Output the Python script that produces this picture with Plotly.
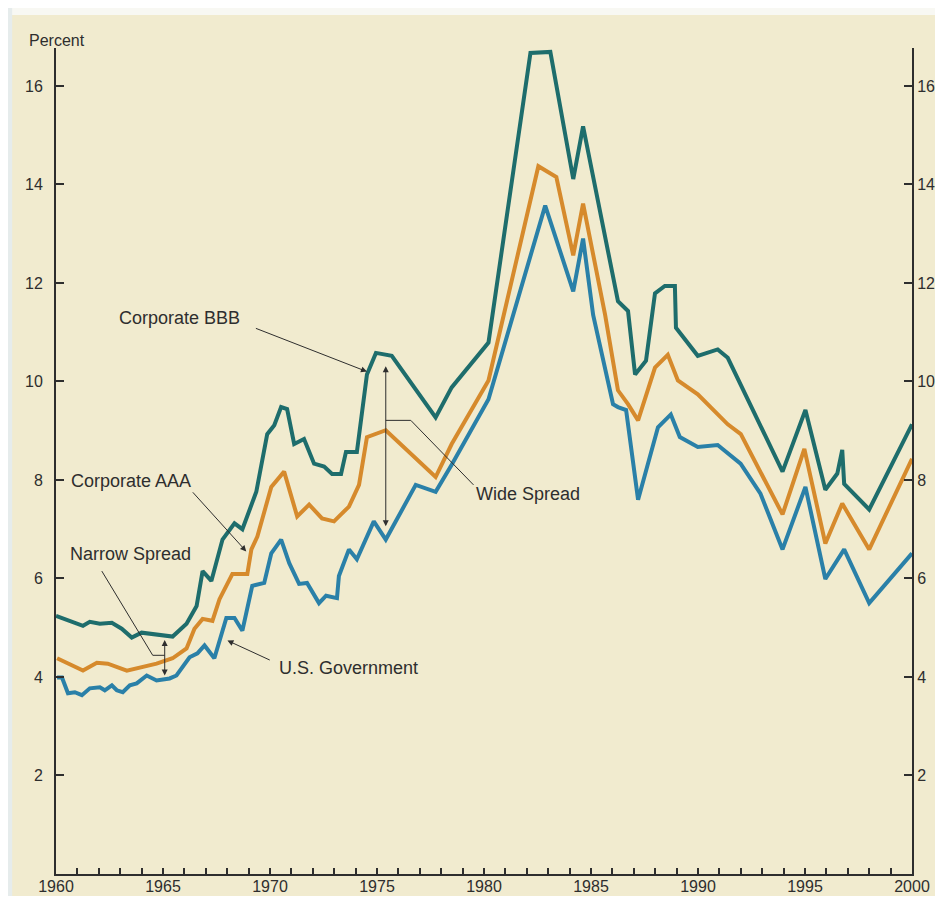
import plotly.graph_objects as go

# ---- data (decimal years, percent) ----
bbb_years = [1960.00, 1960.65, 1961.26, 1961.58, 1962.05, 1962.61, 1963.07, 1963.54, 1964.00,
             1965.45, 1966.10, 1966.57, 1966.85, 1967.26, 1967.78, 1968.34, 1968.71, 1969.36,
             1969.87, 1970.20, 1970.52, 1970.80, 1971.13, 1971.59, 1972.06, 1972.53, 1972.90,
             1973.32, 1973.55, 1974.06, 1974.53, 1974.95, 1975.69, 1977.74, 1978.49, 1980.21,
             1982.17, 1983.10, 1984.17, 1984.63, 1986.26, 1986.73, 1987.06, 1987.57, 1987.99,
             1988.45, 1988.92, 1988.97, 1989.99, 1990.92, 1991.39, 1993.95, 1995.02, 1995.95,
             1996.51, 1996.74, 1996.83, 1998.00, 2000.00]
bbb_values = [5.24, 5.14, 5.04, 5.12, 5.08, 5.10, 4.98, 4.80, 4.90,
              4.82, 5.08, 5.44, 6.15, 5.95, 6.79, 7.12, 7.00, 7.76,
              8.93, 9.11, 9.48, 9.44, 8.73, 8.83, 8.33, 8.27, 8.12,
              8.12, 8.57, 8.57, 10.14, 10.58, 10.52, 9.27, 9.88, 10.79,
              16.67, 16.69, 14.11, 15.18, 11.63, 11.43, 10.14, 10.42, 11.79,
              11.94, 11.94, 11.09, 10.52, 10.65, 10.48, 8.17, 9.42, 7.80,
              8.13, 8.61, 7.92, 7.40, 9.13]

aaa_years = [1960.05, 1961.26, 1961.91, 1962.42, 1963.31, 1964.70, 1965.45, 1966.10, 1966.47,
             1966.85, 1967.31, 1967.64, 1968.24, 1968.94, 1969.13, 1969.41, 1970.06, 1970.66,
             1971.27, 1971.83, 1972.43, 1972.99, 1973.69, 1974.16, 1974.53, 1975.41, 1977.74,
             1978.49, 1980.21, 1982.54, 1983.38, 1984.17, 1984.63, 1985.66, 1986.26, 1986.73,
             1987.20, 1987.99, 1988.59, 1989.06, 1989.99, 1991.39, 1992.00, 1993.95, 1994.97,
             1995.95, 1996.74, 1998.00, 2000.00]
aaa_values = [4.38, 4.13, 4.29, 4.27, 4.13, 4.27, 4.38, 4.58, 4.98,
              5.18, 5.14, 5.58, 6.09, 6.09, 6.59, 6.85, 7.86, 8.17,
              7.26, 7.50, 7.22, 7.16, 7.46, 7.90, 8.87, 9.01, 8.06,
              8.73, 10.02, 14.37, 14.15, 12.56, 13.61, 11.35, 9.82, 9.54,
              9.21, 10.28, 10.54, 10.02, 9.74, 9.13, 8.93, 7.30, 8.63,
              6.71, 7.52, 6.59, 8.43]

gov_years = [1960.05, 1960.28, 1960.56, 1960.88, 1961.21, 1961.58, 1962.05, 1962.28, 1962.61,
             1962.84, 1963.12, 1963.45, 1963.77, 1964.24, 1964.70, 1965.31, 1965.63, 1966.24,
             1966.61, 1966.94, 1967.40, 1967.96, 1968.34, 1968.71, 1969.17, 1969.73, 1970.06,
             1970.52, 1970.90, 1971.36, 1971.73, 1972.29, 1972.62, 1973.13, 1973.22, 1973.69,
             1974.06, 1974.85, 1975.41, 1976.81, 1977.74, 1978.49, 1980.21, 1982.86, 1984.17,
             1984.63, 1985.10, 1986.03, 1986.26, 1986.64, 1987.20, 1988.13, 1988.73, 1989.15,
             1989.99, 1990.92, 1991.99, 1992.92, 1993.95, 1995.02, 1995.95, 1996.83, 1998.00,
             2000.00]
gov_values = [3.99, 3.99, 3.67, 3.69, 3.63, 3.77, 3.79, 3.73, 3.83,
              3.73, 3.69, 3.83, 3.87, 4.03, 3.93, 3.97, 4.03, 4.40,
              4.48, 4.64, 4.38, 5.20, 5.20, 4.94, 5.85, 5.91, 6.51,
              6.79, 6.31, 5.89, 5.91, 5.50, 5.65, 5.60, 6.05, 6.59,
              6.39, 7.16, 6.79, 7.90, 7.76, 8.31, 9.64, 13.57, 11.83,
              12.90, 11.35, 9.54, 9.48, 9.42, 7.60, 9.07, 9.33, 8.87,
              8.67, 8.71, 8.33, 7.72, 6.59, 7.86, 5.99, 6.59, 5.50,
              6.51]

x_tick_years = list(range(1960, 2001))
x_tick_labels = [str(y) if y % 5 == 0 else "" for y in x_tick_years]
y_tick_vals = [2, 4, 6, 8, 10, 12, 14, 16]
y_tick_labels = ["2", "4", "6", "8", "10", "12", "14", "16"]

# ---- styling ----
CREAM = "#f1ebcf"
INK = "#2e2e2e"
FONT = "Liberation Sans, Arial, sans-serif"
C_BBB = "#1e6d6c"
C_AAA = "#d68a2c"
C_GOV = "#2a80a8"
LW = 4

fig = go.Figure()
fig.add_trace(go.Scatter(x=bbb_years, y=bbb_values, mode="lines", name="Corporate BBB",
                         line=dict(color=C_BBB, width=LW), hoverinfo="x+y"))
fig.add_trace(go.Scatter(x=aaa_years, y=aaa_values, mode="lines", name="Corporate AAA",
                         line=dict(color=C_AAA, width=LW), hoverinfo="x+y"))
fig.add_trace(go.Scatter(x=gov_years, y=gov_values, mode="lines", name="U.S. Government",
                         line=dict(color=C_GOV, width=LW), hoverinfo="x+y"))
# invisible trace so the right-hand axis is drawn
fig.add_trace(go.Scatter(x=[bbb_years[0]], y=[bbb_values[0]], yaxis="y2", mode="markers",
                         marker=dict(opacity=0), showlegend=False, hoverinfo="skip"))

YR = [0, 16.77]
axis_common = dict(showgrid=False, zeroline=False, showline=True, linecolor=INK, linewidth=2,
                   ticks="inside", tickcolor=INK, tickwidth=1.5, automargin=False)

fig.update_layout(
    width=927, height=888,
    margin=dict(l=48, r=23, t=40, b=22),
    paper_bgcolor=CREAM, plot_bgcolor=CREAM,
    showlegend=False,
    xaxis=dict(range=[1960, 2000], tickmode="array", tickvals=x_tick_years,
               ticktext=x_tick_labels, ticklen=6, ticklabelstandoff=-3,
               tickfont=dict(family=FONT, size=16, color=INK), **axis_common),
    yaxis=dict(range=YR, tickmode="array", tickvals=y_tick_vals, ticktext=y_tick_labels,
               ticklen=8, ticklabelstandoff=8,
               tickfont=dict(family=FONT, size=16, color=INK), **axis_common),
    yaxis2=dict(range=YR, overlaying="y", side="right", anchor="x", tickmode="array",
                tickvals=y_tick_vals, ticktext=y_tick_labels, ticklen=8,
                ticklabelstandoff=0,
                tickfont=dict(family=FONT, size=16, color=INK), **axis_common),
)

# off-white strips along the top and left edges of the scanned page
fig.add_shape(type="rect", xref="paper", yref="paper", x0=-0.06, x1=1.03,
              y0=1.04, y1=1.06, fillcolor="#f8f8f3", line_width=0, layer="below")
fig.add_shape(type="rect", xref="paper", yref="paper", x0=-0.06, x1=-0.0512,
              y0=-0.03, y1=1.06, fillcolor="#e6ecec", line_width=0, layer="below")

def label(text, x, y, **kw):
    fig.add_annotation(x=x, y=y, text=text, showarrow=False, xref="x", yref="y",
                       font=dict(family=FONT, size=18, color=INK), **kw)

def arrow(x_head, y_head, x_tail, y_tail, both=False):
    fig.add_annotation(x=x_head, y=y_head, ax=x_tail, ay=y_tail, xref="x", yref="y",
                       axref="x", ayref="y", text="", showarrow=True, arrowhead=2,
                       arrowsize=1.2, arrowwidth=1, arrowcolor=INK,
                       arrowside="end+start" if both else "end", startarrowhead=2,
                       startarrowsize=1.2)

def leader(points):
    path = "M " + " L ".join(f"{px},{py}" for px, py in points)
    fig.add_shape(type="path", path=path, xref="x", yref="y",
                  line=dict(color=INK, width=1))

# Corporate BBB
label("Corporate BBB", 1965.75, 11.29)
arrow(1974.53, 10.20, 1969.27, 11.09)
# Corporate AAA
label("Corporate AAA", 1963.49, 7.98)
arrow(1968.89, 6.55, 1966.33, 7.78)
# Narrow Spread
label("Narrow Spread", 1963.49, 6.49)
leader([(1962.14, 6.15), (1964.52, 4.44), (1965.08, 4.44)])
arrow(1965.08, 4.03, 1965.08, 4.78, both=True)
# U.S. Government
label("U.S. Government", 1973.65, 4.19)
arrow(1968.01, 4.74, 1970.06, 4.33)
# Wide Spread
label("Wide Spread", 1982.07, 7.72)
leader([(1979.51, 7.90), (1976.58, 9.21), (1975.41, 9.21)])
arrow(1975.41, 7.06, 1975.41, 10.34, both=True)

# axis title "Percent"
fig.add_annotation(text="Percent", xref="paper", yref="paper", x=-0.034, y=1.0096,
                   xanchor="left", yanchor="middle", showarrow=False,
                   font=dict(family=FONT, size=16, color=INK))

fig.write_html("out.html")
